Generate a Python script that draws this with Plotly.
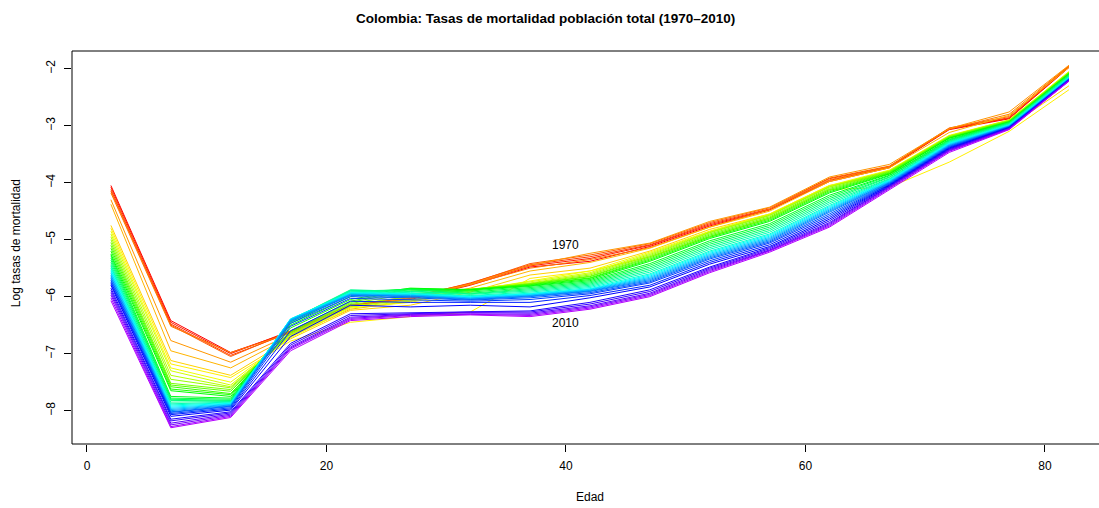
import colorsys
import plotly.graph_objects as go

# Age groups (midpoints of 5-year bands)
ages = [2, 7, 12, 17, 22, 27, 32, 37, 42, 47, 52, 57, 62, 67, 72, 77, 82]
years = list(range(1970, 2011))

# Log mortality rates, one row per calendar year
log_rates = [
    [-4.05, -6.42, -6.98, -6.62, -6.15, -6.05, -5.80, -5.48, -5.38, -5.12, -4.76, -4.48, -3.98, -3.74, -3.07, -2.88, -1.98],  # 1970
    [-4.08, -6.45, -7.00, -6.60, -6.14, -6.03, -5.78, -5.46, -5.33, -5.10, -4.74, -4.47, -3.96, -3.73, -3.06, -2.87, -1.97],  # 1971
    [-4.12, -6.48, -7.03, -6.63, -6.16, -6.02, -5.76, -5.44, -5.30, -5.09, -4.72, -4.46, -3.93, -3.72, -3.05, -2.86, -1.96],  # 1972
    [-4.15, -6.50, -7.05, -6.61, -6.15, -6.00, -5.77, -5.42, -5.27, -5.07, -4.70, -4.44, -3.92, -3.71, -3.04, -2.84, -1.95],  # 1973
    [-4.18, -6.52, -6.98, -6.64, -6.17, -6.04, -5.79, -5.50, -5.35, -5.14, -4.78, -4.47, -3.95, -3.72, -3.06, -2.80, -1.95],  # 1974
    [-4.30, -6.77, -7.15, -6.66, -6.18, -6.02, -5.78, -5.45, -5.24, -5.06, -4.68, -4.43, -3.90, -3.68, -3.05, -2.76, -1.94],  # 1975
    [-4.38, -6.95, -7.25, -6.70, -6.22, -6.08, -5.85, -5.55, -5.40, -5.15, -4.78, -4.50, -3.98, -3.74, -3.12, -2.82, -1.98],  # 1976
    [-4.75, -7.12, -7.38, -6.74, -6.24, -6.15, -5.92, -5.62, -5.50, -5.20, -4.82, -4.55, -4.05, -3.85, -3.30, -3.02, -2.30],  # 1977
    [-4.80, -7.18, -7.42, -6.78, -6.45, -6.35, -6.27, -5.68, -5.55, -5.30, -4.95, -4.62, -4.12, -4.08, -3.64, -3.10, -2.37],  # 1978
    [-4.85, -7.25, -7.50, -6.72, -6.20, -6.10, -5.90, -5.72, -5.55, -5.22, -4.85, -4.55, -4.05, -3.78, -3.17, -2.90, -2.05],  # 1979
    [-4.90, -7.30, -7.55, -6.70, -6.18, -6.08, -5.88, -5.74, -5.58, -5.24, -4.86, -4.56, -4.06, -3.79, -3.18, -2.90, -2.06],  # 1980
    [-4.95, -7.38, -7.58, -6.68, -6.16, -6.06, -5.87, -5.76, -5.60, -5.26, -4.87, -4.57, -4.07, -3.80, -3.18, -2.91, -2.06],  # 1981
    [-5.00, -7.45, -7.60, -6.66, -6.14, -6.00, -5.88, -5.77, -5.62, -5.28, -4.88, -4.58, -4.08, -3.80, -3.19, -2.91, -2.07],  # 1982
    [-5.05, -7.52, -7.63, -6.64, -6.12, -5.95, -5.88, -5.78, -5.64, -5.30, -4.90, -4.60, -4.10, -3.81, -3.20, -2.92, -2.07],  # 1983
    [-5.10, -7.55, -7.66, -6.62, -6.10, -5.90, -5.87, -5.78, -5.65, -5.32, -4.92, -4.62, -4.12, -3.82, -3.20, -2.92, -2.08],  # 1984
    [-5.15, -7.58, -7.70, -6.60, -6.08, -5.87, -5.87, -5.79, -5.67, -5.34, -4.94, -4.64, -4.14, -3.83, -3.21, -2.93, -2.08],  # 1985
    [-5.20, -7.62, -7.72, -6.55, -6.05, -5.86, -5.88, -5.80, -5.68, -5.36, -4.96, -4.66, -4.16, -3.84, -3.22, -2.93, -2.09],  # 1986
    [-5.25, -7.65, -7.75, -6.50, -6.00, -5.85, -5.88, -5.81, -5.70, -5.38, -4.98, -4.68, -4.18, -3.85, -3.22, -2.94, -2.09],  # 1987
    [-5.28, -7.75, -7.78, -6.47, -5.95, -5.86, -5.90, -5.82, -5.72, -5.42, -5.02, -4.72, -4.22, -3.87, -3.24, -2.94, -2.10],  # 1988
    [-5.32, -7.78, -7.80, -6.45, -5.92, -5.87, -5.92, -5.84, -5.74, -5.45, -5.05, -4.75, -4.25, -3.88, -3.25, -2.95, -2.11],  # 1989
    [-5.36, -7.80, -7.82, -6.43, -5.90, -5.88, -5.94, -5.86, -5.76, -5.48, -5.08, -4.78, -4.28, -3.90, -3.26, -2.95, -2.12],  # 1990
    [-5.40, -7.82, -7.83, -6.42, -5.89, -5.90, -5.95, -5.88, -5.78, -5.51, -5.11, -4.81, -4.31, -3.91, -3.27, -2.96, -2.13],  # 1991
    [-5.44, -7.85, -7.84, -6.41, -5.88, -5.91, -5.96, -5.90, -5.80, -5.54, -5.14, -4.84, -4.34, -3.93, -3.28, -2.97, -2.14],  # 1992
    [-5.47, -7.88, -7.85, -6.40, -5.90, -5.93, -5.98, -5.92, -5.82, -5.57, -5.17, -4.87, -4.37, -3.94, -3.29, -2.98, -2.15],  # 1993
    [-5.50, -7.90, -7.86, -6.40, -5.92, -5.94, -5.99, -5.94, -5.84, -5.60, -5.20, -4.90, -4.40, -3.95, -3.30, -2.99, -2.15],  # 1994
    [-5.53, -7.92, -7.87, -6.39, -5.93, -5.95, -6.00, -5.95, -5.86, -5.62, -5.22, -4.92, -4.42, -3.96, -3.31, -2.99, -2.16],  # 1995
    [-5.56, -7.94, -7.88, -6.39, -5.94, -5.96, -6.01, -5.96, -5.87, -5.64, -5.24, -4.94, -4.44, -3.97, -3.32, -3.00, -2.16],  # 1996
    [-5.59, -7.96, -7.89, -6.40, -5.95, -5.97, -6.02, -5.97, -5.88, -5.66, -5.26, -4.96, -4.46, -3.98, -3.33, -3.00, -2.17],  # 1997
    [-5.62, -7.98, -7.90, -6.41, -5.96, -5.98, -6.03, -5.98, -5.89, -5.68, -5.28, -4.98, -4.48, -3.99, -3.34, -3.01, -2.17],  # 1998
    [-5.65, -8.00, -7.91, -6.42, -5.97, -5.99, -6.04, -5.99, -5.90, -5.70, -5.30, -5.00, -4.50, -4.00, -3.35, -3.01, -2.18],  # 1999
    [-5.68, -8.02, -7.92, -6.44, -5.98, -6.00, -6.05, -6.00, -5.91, -5.72, -5.32, -5.02, -4.52, -4.01, -3.36, -3.02, -2.18],  # 2000
    [-5.71, -8.03, -7.93, -6.47, -6.00, -6.02, -6.06, -6.02, -5.93, -5.74, -5.34, -5.04, -4.55, -4.02, -3.37, -3.02, -2.19],  # 2001
    [-5.74, -8.05, -7.95, -6.52, -6.03, -6.05, -6.08, -6.05, -5.95, -5.76, -5.37, -5.06, -4.58, -4.03, -3.38, -3.03, -2.19],  # 2002
    [-5.77, -8.07, -7.97, -6.60, -6.08, -6.10, -6.10, -6.10, -5.98, -5.80, -5.40, -5.09, -4.61, -4.04, -3.39, -3.03, -2.20],  # 2003
    [-5.80, -8.10, -7.99, -6.70, -6.15, -6.18, -6.15, -6.18, -6.02, -5.83, -5.43, -5.12, -4.64, -4.05, -3.40, -3.04, -2.20],  # 2004
    [-5.85, -8.15, -8.02, -6.82, -6.30, -6.28, -6.26, -6.25, -6.10, -5.88, -5.48, -5.14, -4.67, -4.06, -3.41, -3.04, -2.20],  # 2005
    [-5.89, -8.18, -8.04, -6.85, -6.33, -6.30, -6.27, -6.27, -6.13, -5.91, -5.50, -5.16, -4.70, -4.07, -3.42, -3.05, -2.20],  # 2006
    [-5.93, -8.22, -8.06, -6.88, -6.36, -6.31, -6.28, -6.29, -6.16, -5.94, -5.52, -5.18, -4.72, -4.08, -3.43, -3.05, -2.21],  # 2007
    [-5.97, -8.25, -8.08, -6.90, -6.38, -6.32, -6.30, -6.31, -6.18, -5.96, -5.54, -5.19, -4.74, -4.09, -3.44, -3.06, -2.21],  # 2008
    [-6.02, -8.28, -8.10, -6.92, -6.40, -6.33, -6.31, -6.33, -6.20, -5.98, -5.56, -5.20, -4.76, -4.10, -3.45, -3.06, -2.22],  # 2009
    [-6.07, -8.30, -8.12, -6.95, -6.42, -6.35, -6.32, -6.35, -6.22, -6.00, -5.58, -5.22, -4.78, -4.12, -3.47, -3.07, -2.22],  # 2010
]

x_ticks = [0, 20, 40, 60, 80]
y_ticks = [-8, -7, -6, -5, -4, -3, -2]
year_labels = [("1970", 40, -5.09), ("2010", 40, -6.46)]

FONT = "Liberation Sans, Arial, Helvetica, sans-serif"


def rainbow(n_total, i):
    r, g, b = colorsys.hsv_to_rgb(i / n_total, 1.0, 1.0)
    return f"rgb({round(r * 255)},{round(g * 255)},{round(b * 255)})"


n_pal = round(len(years) * 1.25)

fig = go.Figure()
for i, (yr, row) in enumerate(zip(years, log_rates)):
    fig.add_trace(go.Scatter(
        x=ages, y=row, mode="lines", name=str(yr),
        line=dict(color=rainbow(n_pal, i), width=1),
        hoverinfo="name+x+y",
    ))

for txt, xv, yv in year_labels:
    fig.add_annotation(x=xv, y=yv, text=txt, showarrow=False,
                       font=dict(family=FONT, size=12, color="black"))

# Plot frame (left, top, bottom)
for x0, y0, x1, y1 in [(0, 0, 0, 1), (0, 1, 1, 1), (0, 0, 1, 0)]:
    fig.add_shape(type="line", xref="paper", yref="paper",
                  x0=x0, y0=y0, x1=x1, y1=y1,
                  line=dict(color="black", width=1))

fig.add_annotation(text="<b>Colombia: Tasas de mortalidad población total (1970–2010)</b>",
                   xref="paper", yref="paper", x=0.4606, y=1.0, yshift=33,
                   xanchor="center", yanchor="middle",
                   showarrow=False, font=dict(family=FONT, size=13.5, color="black"))
fig.add_annotation(text="Edad", xref="paper", yref="paper", x=0.5044, y=-0.135,
                   xanchor="center", yanchor="middle",
                   showarrow=False, font=dict(family=FONT, size=12, color="black"))
fig.add_annotation(text="Log tasas de mortalidad", xref="paper", yref="paper",
                   x=-0.0545, y=0.511, textangle=-90, showarrow=False,
                   xanchor="center", yanchor="middle",
                   font=dict(family=FONT, size=12, color="black"))

fig.update_layout(
    width=1099, height=508,
    margin=dict(l=72, r=0, t=51, b=64),
    paper_bgcolor="white", plot_bgcolor="white",
    showlegend=False,
    font=dict(family=FONT, size=12, color="black"),
    xaxis=dict(range=[-1.25, 84.51], tickvals=x_ticks, ticks="outside",
               ticklen=7, tickcolor="black", showgrid=False, zeroline=False,
               showline=False, tickfont=dict(size=12), ticklabelstandoff=4),
    yaxis=dict(range=[-8.585, -1.69], tickvals=y_ticks, ticks="outside",
               ticklen=7, tickcolor="black", showgrid=False, zeroline=False,
               showline=False, tickangle=-90, tickfont=dict(size=12),
               ticklabelstandoff=4),
)

fig.write_html("out.html")
